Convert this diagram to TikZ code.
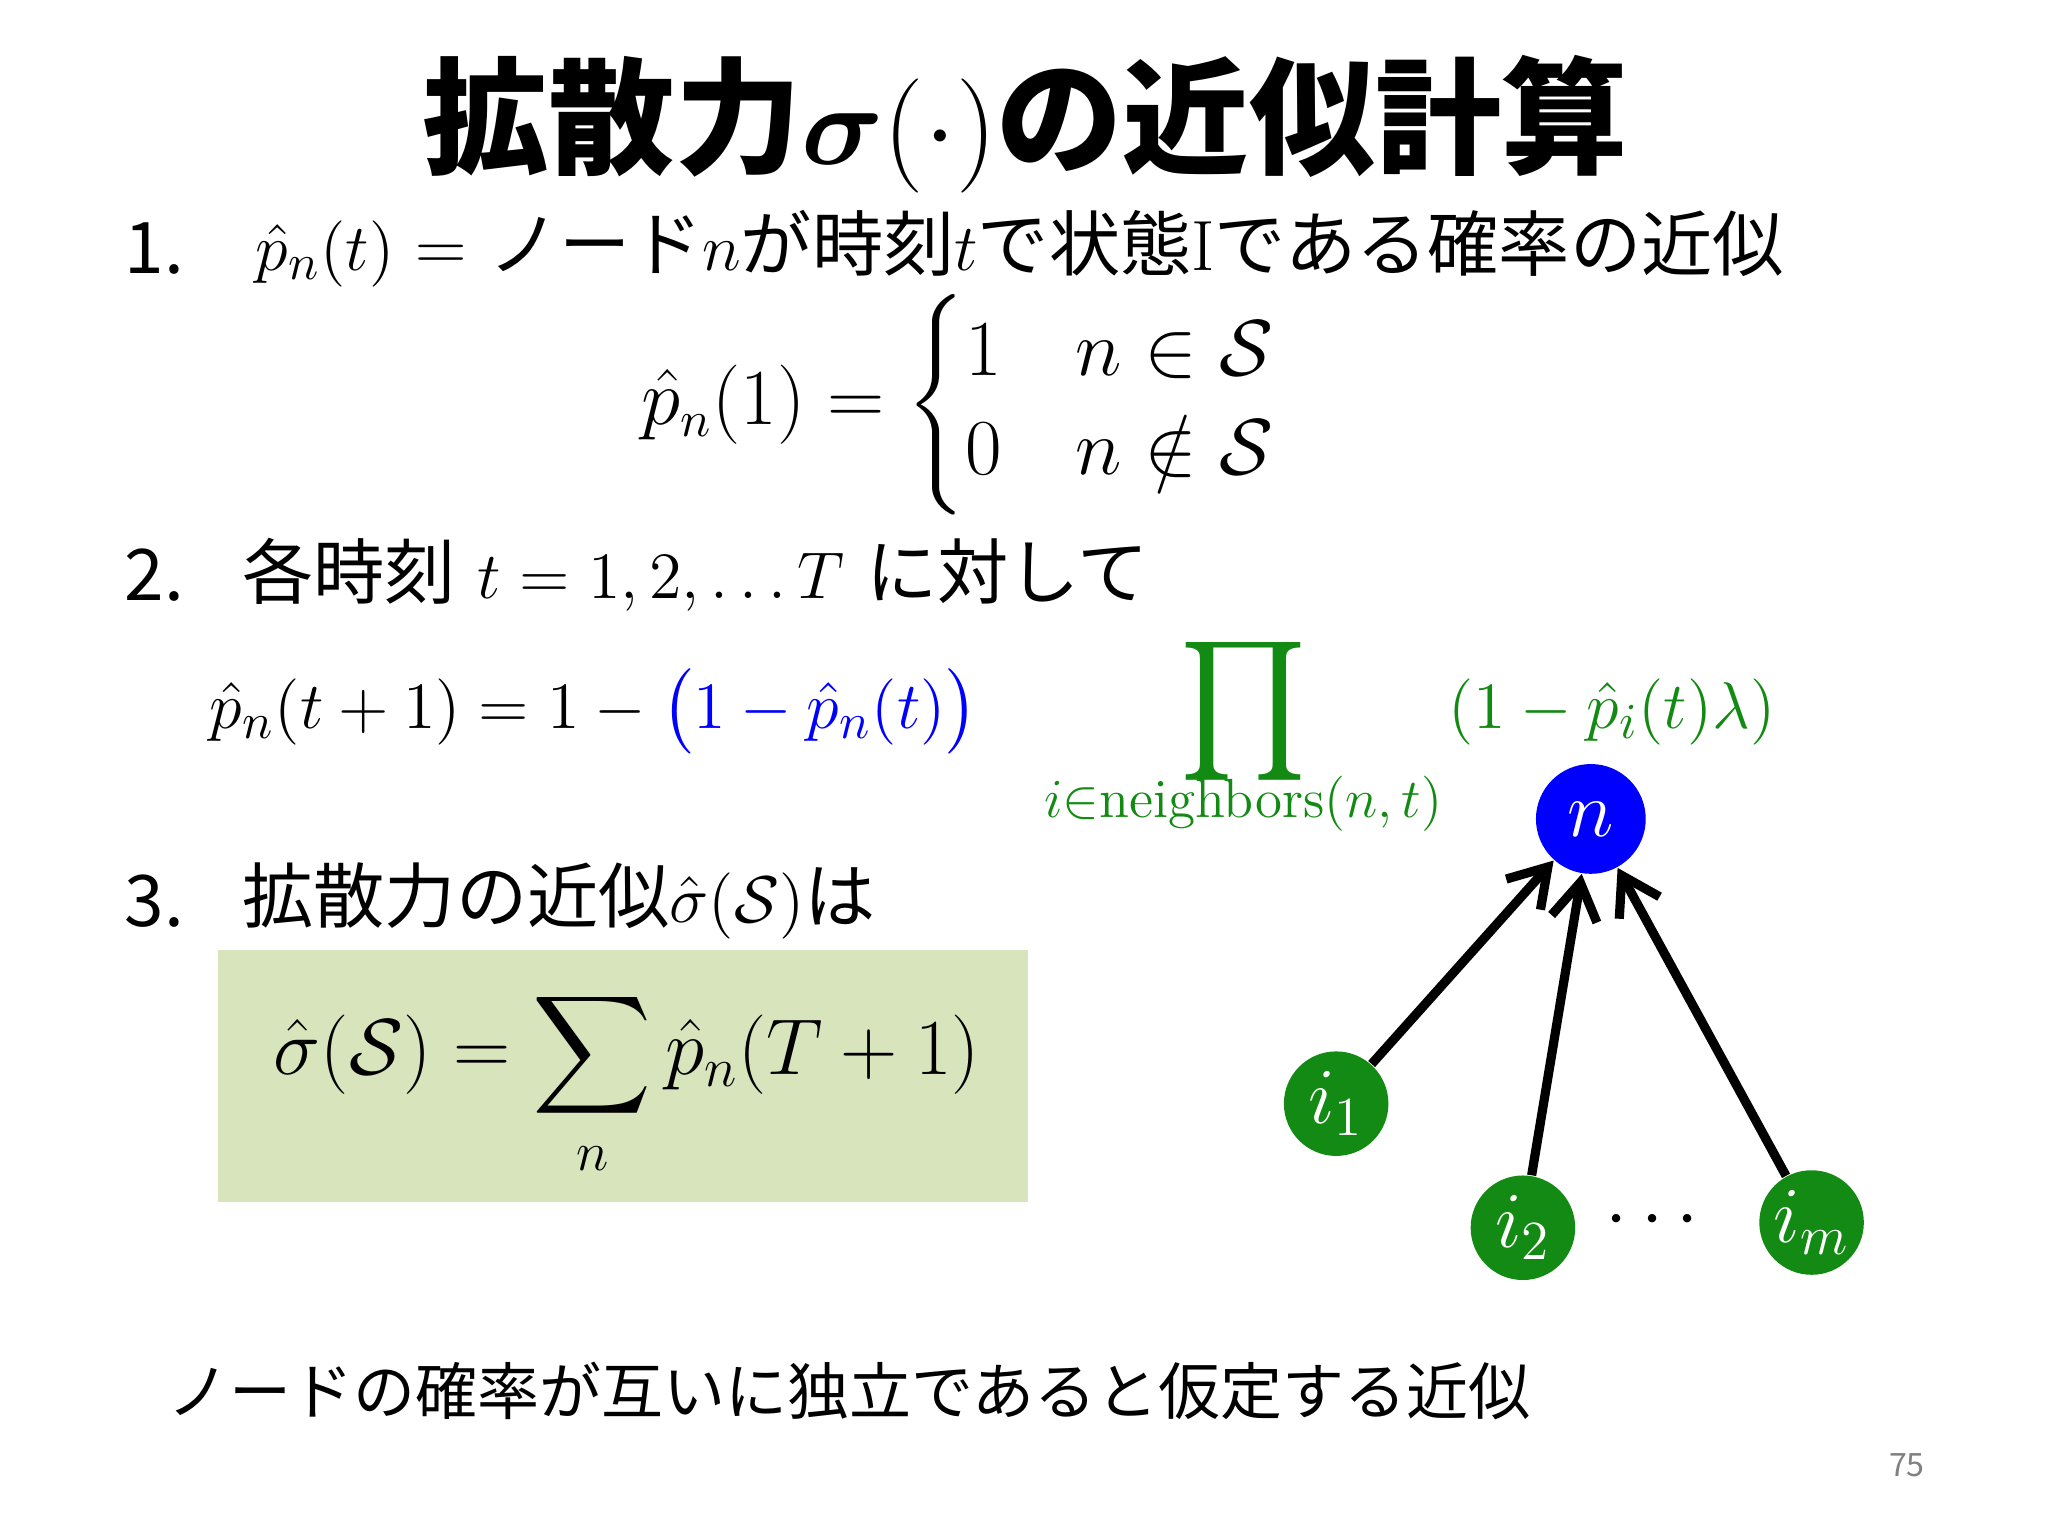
\documentclass[tikz,border=0pt]{standalone}
\usepackage{amsmath,amssymb}
\usepackage{fontspec}
\newfontfamily\jp{Noto Sans CJK JP}
\usetikzlibrary{arrows.meta}
\definecolor{gr}{HTML}{138A13}
\definecolor{bx}{HTML}{D8E4BC}
\begin{document}
\begin{tikzpicture}[x=0.01cm,y=-0.01cm,
  txt/.style={anchor=west,inner sep=0pt,font=\fontsize{15.5}{18}\selectfont},
  nd/.style={circle,inner sep=0pt,text=white,font=\fontsize{18}{20}\selectfont},
  ar/.style={-{Straight Barb[length=8pt,width=10pt]},line width=2pt}]
\useasboundingbox (0,0) rectangle (1568,1176);
\node (title) at (785,95) {\jp\bfseries\fontsize{27.5}{30}\selectfont 拡散力$\boldsymbol{\sigma}(\cdot)$の近似計算};
\node[txt] (l1n) at (95,190) {\jp 1.};
\node[txt] (l1) at (195,190) {$\hat p_n(t)$ = {\jp ノード}$n${\jp が時刻}$t${\jp で状態}I{\jp である確率の近似}};
\node (cases) at (735,310) {\fontsize{16}{18}\selectfont $\hat p_n(1)=\begin{cases}1 & n\in\mathcal S\\ 0 & n\notin\mathcal S\end{cases}$};
\node[txt] (l2n) at (95,440) {\jp 2.};
\node[txt] (l2) at (185,440) {{\jp 各時刻} $t=1,2,\ldots T$ {\jp に対して}};
\node[txt] (f2) at (160,545) {$\hat p_n(t+1)=1-{\color{blue}\bigl(1-\hat p_n(t)\bigr)}$};
\node (prod) at (952,545) {\color{gr}\fontsize{30}{30}\selectfont$\prod$};
\node (sub) at (952,615) {\color{gr}\fontsize{12}{13}\selectfont $i{\in}$neighbors$(n,t)$};
\node[txt] (f2r) at (1108,545) {\color{gr}$(1-\hat p_i(t)\lambda)$};
\node[txt] (l3n) at (95,690) {\jp 3.};
\node[txt] (l3) at (185,690) {{\jp 拡散力の近似}$\hat\sigma(\mathcal S)${\jp は}};
\fill[bx] (167,727) rectangle (787,920);
\node (f3) at (480,830) {\fontsize{18}{20}\selectfont $\displaystyle\hat\sigma(\mathcal S)=\sum_n \hat p_n(T+1)$};
\node[nd,fill=blue,minimum size=0.84cm] (n) at (1218,627) {$n$};
\node[nd,fill=gr,minimum size=0.8cm] (i1) at (1023,845) {$i_1$};
\node[nd,fill=gr,minimum size=0.8cm] (i2) at (1166,940) {$i_2$};
\node[nd,fill=gr,minimum size=0.8cm] (im) at (1387,936) {$i_m$};
\node (dots) at (1270,935) {\fontsize{16}{18}\selectfont $\cdots$};
\draw[ar] (i1) -- (n);
\draw[ar] (i2) -- (n);
\draw[ar] (im) -- (n);
\node (foot) at (650,1065) {\jp\fontsize{13.5}{15}\selectfont ノードの確率が互いに独立であると仮定する近似};
\node[text=gray] (pg) at (1460,1122) {\jp\fontsize{7}{8}\selectfont 75};
\end{tikzpicture}
\end{document}
